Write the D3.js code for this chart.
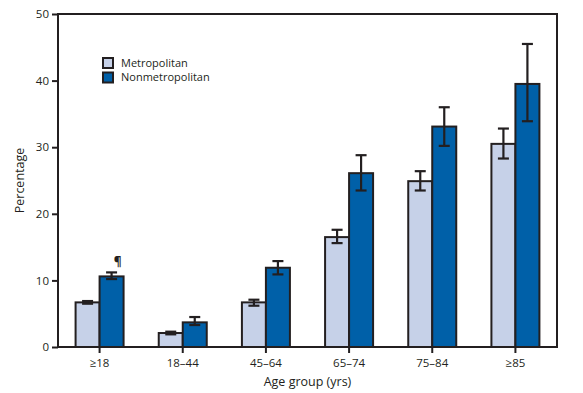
<!DOCTYPE html>
<html>
<head>
<meta charset="utf-8">
<script src="https://cdn.jsdelivr.net/npm/d3@7"></script>
<style>
  body { margin: 0; background: #fff; }
  svg text { font-family: "Open Sans", "DejaVu Sans", sans-serif; fill: #231f20; }
</style>
</head>
<body>
<div id="chart"></div>
<script>
// data
const ageGroups = ["≥18", "18–44", "45–64", "65–74", "75–84", "≥85"];
const seriesNames = ["Metropolitan", "Nonmetropolitan"];
const metroValues = [6.7, 2.1, 6.7, 16.5, 24.9, 30.5];
const metroLow    = [6.5, 1.9, 6.2, 15.6, 23.5, 28.3];
const metroHigh   = [6.9, 2.3, 7.1, 17.6, 26.4, 32.8];
const nonmetroValues = [10.6, 3.7, 11.9, 26.1, 33.1, 39.5];
const nonmetroLow    = [10.2, 3.3, 10.9, 23.5, 30.2, 33.9];
const nonmetroHigh   = [11.2, 4.5, 12.9, 28.8, 36.0, 45.5];
const yTicks = [0, 10, 20, 30, 40, 50];
const flagged = [{ group: "≥18", series: "Nonmetropolitan", mark: "¶" }];

const colors = { "Metropolitan": "#c6d1e8", "Nonmetropolitan": "#0060a8" };
const ink = "#231f20";

const W = 583, H = 393;
const margin = { top: 14, right: 26, bottom: 46, left: 58 };
const width = W - margin.left - margin.right;
const height = H - margin.top - margin.bottom;

const svg = d3.select("#chart").append("svg")
    .attr("width", W).attr("height", H);
const g = svg.append("g")
    .attr("transform", `translate(${margin.left},${margin.top})`);

const x0 = d3.scaleBand().domain(ageGroups).range([0, width]).padding(0);
const x1 = d3.scaleBand().domain(seriesNames)
    .range([x0.bandwidth() / 2 - 24, x0.bandwidth() / 2 + 24]);
const y = d3.scaleLinear().domain([0, 50]).range([height, 0]);

// rows per group
const rows = ageGroups.map((a, i) => ({
    group: a,
    bars: [
        { key: "Metropolitan", v: metroValues[i], lo: metroLow[i], hi: metroHigh[i] },
        { key: "Nonmetropolitan", v: nonmetroValues[i], lo: nonmetroLow[i], hi: nonmetroHigh[i] }
    ]
}));

const grp = g.selectAll("g.grp").data(rows).enter().append("g")
    .attr("class", "grp")
    .attr("transform", d => `translate(${x0(d.group)},0)`);

grp.selectAll("rect").data(d => d.bars).enter().append("rect")
    .attr("x", d => x1(d.key))
    .attr("y", d => y(d.v))
    .attr("width", x1.bandwidth())
    .attr("height", d => height - y(d.v))
    .attr("fill", d => colors[d.key])
    .attr("stroke", ink)
    .attr("stroke-width", 2);

// error bars
const eb = grp.selectAll("g.err").data(d => d.bars).enter().append("g")
    .attr("class", "err")
    .attr("stroke", ink).attr("stroke-width", 2.2);
const cx = d => x1(d.key) + x1.bandwidth() / 2;
eb.append("line").attr("x1", cx).attr("x2", cx)
    .attr("y1", d => y(d.lo)).attr("y2", d => y(d.hi));
eb.append("line").attr("x1", d => cx(d) - 5.5).attr("x2", d => cx(d) + 5.5)
    .attr("y1", d => y(d.lo)).attr("y2", d => y(d.lo));
eb.append("line").attr("x1", d => cx(d) - 5.5).attr("x2", d => cx(d) + 5.5)
    .attr("y1", d => y(d.hi)).attr("y2", d => y(d.hi));

// footnote mark
flagged.forEach(f => {
    const i = ageGroups.indexOf(f.group);
    g.append("text")
        .attr("x", x0(f.group) + x1(f.series) + x1.bandwidth() / 2 + 6)
        .attr("y", y(nonmetroHigh[i]) - 6)
        .attr("text-anchor", "middle")
        .attr("font-size", 12).attr("font-weight", "bold")
        .text(f.mark);
});

// frame
g.append("rect").attr("width", width).attr("height", height)
    .attr("fill", "none").attr("stroke", ink).attr("stroke-width", 2);

// axes
const yAxis = g.append("g")
    .call(d3.axisLeft(y).tickValues(yTicks).tickSize(6).tickPadding(3));
const xAxis = g.append("g").attr("transform", `translate(0,${height})`)
    .call(d3.axisBottom(x0).tickSize(6).tickPadding(6));
[yAxis, xAxis].forEach(a => {
    a.select(".domain").remove();
    a.selectAll("line").attr("stroke", ink).attr("stroke-width", 2);
    a.selectAll("text").attr("font-size", 11.5).attr("fill", ink)
        .style("font-family", '"Open Sans", "DejaVu Sans", sans-serif');
});

// axis titles
svg.append("text")
    .attr("transform", `translate(24,${margin.top + height / 2}) rotate(-90)`)
    .attr("text-anchor", "middle").attr("font-size", 12.5)
    .text("Percentage");
svg.append("text")
    .attr("x", margin.left + width / 2).attr("y", 386)
    .attr("text-anchor", "middle").attr("font-size", 12.5)
    .text("Age group (yrs)");

// legend
const legend = svg.append("g").attr("transform", "translate(103,58)");
const li = legend.selectAll("g").data(seriesNames).enter().append("g")
    .attr("transform", (d, i) => `translate(0,${i * 14.5})`);
li.append("rect").attr("width", 10).attr("height", 10)
    .attr("fill", d => colors[d]).attr("stroke", ink).attr("stroke-width", 2);
li.append("text").attr("x", 18).attr("y", 5).attr("dy", "0.35em")
    .attr("font-size", 11).text(d => d);
</script>
</body>
</html>
